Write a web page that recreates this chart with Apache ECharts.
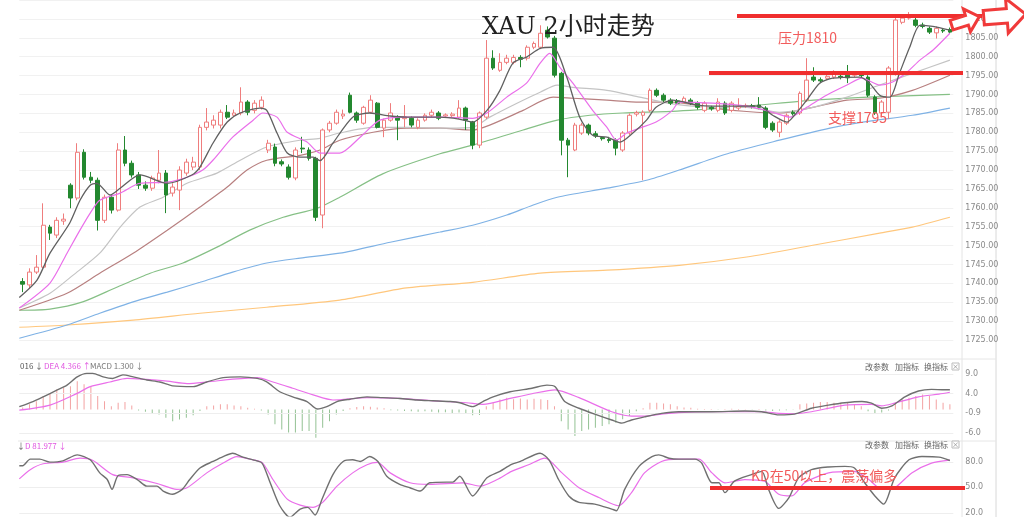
<!DOCTYPE html>
<html>
<head>
<meta charset="utf-8">
<script src="https://cdn.jsdelivr.net/npm/echarts@6/dist/echarts.min.js"></script>
<style>html,body{margin:0;padding:0;background:#fff}#c{width:1024px;height:517px}</style>
</head>
<body>
<div id="c"></div>
<script>
// ---- DATA ----
// candles: [open, close, low, high]
const candles = [
[1740.5,1739.8,1737.7,1741.4],[1739.6,1743.0,1738.5,1744.0],[1743.0,1744.3,1742.5,1747.5],[1744.3,1755.4,1744.0,1761.2],
[1754.9,1753.3,1751.5,1755.5],[1752.8,1756.7,1752.0,1757.5],[1756.5,1757.0,1755.5,1758.5],[1766.0,1762.6,1759.9,1766.5],
[1762.6,1774.7,1762.0,1777.1],[1774.7,1768.1,1767.5,1775.5],[1768.1,1767.3,1766.5,1769.5],[1767.3,1756.7,1754.0,1768.0],
[1756.7,1762.8,1756.0,1763.5],[1762.8,1759.4,1758.5,1763.5],[1759.4,1775.3,1759.0,1777.1],[1775.3,1771.8,1771.0,1779.0],
[1771.8,1768.7,1768.0,1772.5],[1768.7,1766.0,1765.0,1769.5],[1766.0,1765.2,1764.5,1767.0],[1765.2,1767.9,1764.5,1768.5],
[1767.3,1769.2,1766.5,1775.3],[1769.2,1763.4,1758.6,1770.0],[1763.9,1765.5,1763.0,1766.5],[1764.7,1770.0,1759.4,1771.0],
[1769.2,1772.1,1768.5,1773.0],[1770.8,1772.1,1770.0,1773.5],[1770.8,1781.3,1770.0,1782.0],[1781.3,1782.7,1780.5,1786.4],
[1781.9,1783.2,1781.0,1784.5],[1781.9,1785.3,1781.0,1786.0],[1785.3,1784.0,1783.5,1787.2],[1784.5,1785.1,1784.0,1786.0],
[1785.1,1788.0,1784.5,1791.9],[1788.0,1785.3,1784.5,1788.5],[1785.8,1787.7,1785.0,1788.5],[1786.6,1788.5,1786.0,1789.5],
[1775.3,1777.1,1774.5,1778.0],[1776.1,1771.8,1771.0,1777.0],[1772.2,1771.6,1771.0,1772.8],[1770.8,1768.1,1767.5,1771.5],
[1767.9,1775.3,1767.3,1776.0],[1775.8,1775.6,1774.5,1778.8],[1775.3,1773.1,1772.5,1776.0],[1773.1,1757.5,1756.5,1773.5],
[1758.1,1780.6,1754.6,1781.0],[1780.6,1782.4,1780.0,1783.0],[1782.4,1785.3,1782.0,1786.0],[1784.3,1784.8,1783.5,1786.0],
[1789.8,1785.3,1785.0,1790.5],[1785.1,1783.2,1782.5,1785.5],[1782.4,1786.6,1782.0,1787.0],[1785.3,1788.5,1785.0,1789.8],
[1787.7,1781.3,1781.0,1788.0],[1781.1,1783.2,1778.7,1783.6],[1783.2,1785.1,1782.8,1787.7],[1784.0,1783.2,1777.9,1784.5],
[1783.6,1784.1,1781.3,1787.2],[1783.7,1781.9,1781.3,1784.2],[1781.3,1783.2,1780.8,1783.7],[1783.2,1784.5,1782.8,1785.0],
[1784.5,1785.3,1784.0,1786.0],[1785.1,1783.7,1783.2,1785.6],[1784.3,1784.6,1783.8,1785.0],[1784.4,1784.8,1784.0,1785.3],
[1784.0,1786.4,1783.5,1788.5],[1786.4,1783.2,1780.6,1786.8],[1782.7,1776.6,1775.5,1783.0],[1776.6,1785.1,1775.8,1785.5],
[1784.0,1799.6,1783.5,1804.4],[1799.6,1797.0,1796.5,1801.7],[1796.4,1798.5,1796.0,1800.9],[1798.5,1799.6,1798.0,1800.5],
[1798.5,1799.8,1798.0,1800.5],[1799.8,1799.3,1797.2,1800.4],[1799.6,1802.5,1799.0,1803.0],[1802.5,1803.5,1802.0,1804.0],
[1802.5,1806.2,1802.0,1808.3],[1807.0,1805.2,1804.8,1808.0],[1804.9,1795.1,1794.5,1805.5],[1795.6,1777.9,1773.9,1796.0],
[1777.9,1776.6,1768.1,1778.5],[1775.3,1781.9,1775.0,1782.5],[1779.8,1781.9,1779.3,1782.5],[1781.9,1779.8,1779.2,1782.3],
[1779.6,1779.0,1778.5,1780.3],[1778.6,1778.3,1777.8,1779.0],[1778.1,1777.8,1777.2,1778.8],[1777.9,1775.8,1773.9,1778.4],
[1775.3,1779.8,1774.8,1780.3],[1779.8,1784.5,1779.3,1785.0],[1784.8,1785.2,1784.2,1785.7],[1784.5,1785.3,1767.3,1785.8],
[1785.8,1791.1,1785.3,1791.6],[1791.1,1789.8,1789.3,1791.6],[1789.8,1788.5,1788.0,1790.3],[1788.5,1787.7,1787.2,1789.0],
[1788.3,1787.7,1787.2,1788.8],[1788.0,1789.0,1787.5,1789.5],[1788.5,1787.7,1787.2,1789.0],[1787.7,1786.6,1786.0,1788.2],
[1785.8,1787.7,1785.3,1788.2],[1786.6,1786.2,1785.7,1787.0],[1785.8,1788.0,1785.3,1789.0],[1787.7,1785.1,1784.6,1788.2],
[1785.8,1787.7,1785.3,1788.2],[1786.4,1786.8,1785.8,1789.0],[1786.9,1787.1,1786.4,1787.6],[1787.0,1786.8,1786.3,1787.5],
[1787.2,1786.6,1786.1,1789.3],[1786.4,1781.3,1780.8,1786.9],[1782.4,1780.6,1780.1,1782.9],[1780.0,1782.7,1778.7,1783.2],
[1782.4,1784.5,1781.9,1785.0],[1785.3,1784.9,1784.4,1785.8],[1785.1,1790.3,1784.6,1790.8],[1788.5,1793.8,1788.0,1799.6],
[1794.6,1793.8,1793.3,1797.2],[1793.9,1793.6,1793.0,1794.5],[1794.3,1794.8,1793.8,1795.3],[1794.6,1795.9,1794.1,1796.4],
[1794.8,1794.5,1794.0,1795.5],[1795.1,1794.4,1793.0,1797.8],[1795.1,1795.3,1794.6,1795.8],[1795.2,1795.0,1794.5,1795.7],
[1794.6,1789.8,1789.3,1795.1],[1789.3,1785.1,1784.6,1789.8],[1785.1,1788.0,1784.0,1788.5],[1785.3,1797.0,1783.5,1797.5],
[1795.6,1809.7,1795.0,1811.0],[1809.1,1810.2,1808.6,1811.0],[1810.2,1811.0,1809.8,1811.8],[1809.7,1808.3,1807.8,1810.8],
[1808.4,1808.0,1807.5,1809.0],[1807.5,1806.5,1806.0,1808.0],[1806.3,1807.5,1804.8,1808.0],[1807.0,1806.8,1806.3,1807.5],
[1807.2,1806.5,1806.0,1807.7]
];
// moving averages: [bar index, price]
const ma5 = [[-0.5,1736.3],[2.1,1740.9],[4.0,1748.0],[6.9,1756.0],[8.4,1762.0],[9.9,1766.0],[10.9,1766.5],[12.8,1763.4],[14.3,1765.2],[17.2,1768.7],[21.2,1766.5],[24.8,1768.7],[26.0,1770.8],[27.9,1777.1],[30.0,1782.7],[31.9,1785.1],[34.8,1786.4],[35.8,1785.8],[37.3,1779.8],[38.8,1774.5],[40.7,1773.4],[42.6,1773.4],[43.6,1772.5],[45.5,1777.1],[48.4,1784.0],[50.9,1785.1],[53.9,1784.3],[56.3,1784.0],[61.2,1784.0],[64.0,1783.5],[66.0,1782.7],[68.1,1785.8],[70.0,1791.1],[71.9,1798.3],[73.9,1799.9],[75.9,1802.2],[77.8,1802.5],[79.8,1794.6],[81.7,1784.0],[83.6,1779.2],[85.7,1778.7],[87.6,1777.4],[89.5,1779.8],[91.5,1783.2],[92.9,1786.6],[95.3,1788.5],[98.9,1787.2],[101.2,1786.9],[108.0,1786.9],[110.0,1784.5],[112.1,1782.7],[113.2,1784.5],[115.0,1788.5],[116.9,1793.0],[118.8,1794.3],[122.8,1794.6],[124.2,1793.0],[125.7,1789.8],[127.2,1789.3],[128.6,1795.6],[130.1,1802.5],[131.6,1808.3],[133.5,1808.0],[136.0,1807.0]];
const ma10 = [[-0.5,1733.5],[4.0,1740.1],[6.5,1748.0],[8.4,1754.1],[9.9,1758.6],[11.3,1762.0],[14.3,1763.9],[17.2,1766.5],[21.2,1766.8],[24.1,1768.1],[26.4,1770.0],[27.9,1772.6],[30.8,1778.7],[33.8,1783.2],[35.2,1785.1],[37.3,1784.0],[38.8,1780.0],[41.7,1777.4],[43.6,1774.5],[46.5,1774.5],[49.5,1778.7],[52.4,1783.2],[56.3,1784.0],[61.2,1784.0],[66.0,1783.7],[68.1,1785.1],[71.0,1789.3],[73.9,1793.0],[75.9,1798.3],[77.3,1800.9],[78.8,1797.2],[80.7,1793.0],[83.6,1785.8],[85.7,1781.3],[87.1,1777.9],[88.6,1779.8],[90.5,1781.1],[92.9,1782.7],[95.3,1785.8],[96.3,1788.0],[101.2,1787.7],[106.2,1786.9],[110.0,1785.3],[112.5,1784.0],[115.0,1786.6],[117.9,1789.8],[120.9,1792.5],[123.1,1794.3],[125.7,1792.5],[127.6,1793.3],[129.7,1795.9],[131.6,1799.1],[133.5,1801.7],[136.0,1806.2]];
const ma20 = [[-0.5,1733.5],[4.0,1737.4],[7.4,1742.2],[11.3,1748.0],[14.3,1754.9],[17.2,1760.2],[20.6,1762.8],[24.1,1766.5],[28.5,1769.2],[31.9,1772.6],[35.8,1776.1],[40.7,1777.9],[43.6,1778.4],[46.5,1779.8],[51.4,1781.3],[56.3,1781.3],[61.2,1781.1],[66.0,1781.3],[68.5,1784.0],[72.5,1787.7],[75.9,1790.6],[78.4,1792.5],[80.7,1791.9],[85.7,1791.1],[90.5,1789.3],[95.3,1787.5],[101.2,1786.6],[106.2,1786.6],[111.0,1785.3],[115.9,1786.6],[120.9,1789.3],[125.7,1792.5],[130.5,1795.6],[136.0,1799.1]];
const ma30 = [[-0.5,1732.9],[6.5,1737.4],[11.3,1742.7],[16.2,1748.0],[21.2,1754.1],[26.0,1760.2],[30.0,1765.5],[32.9,1770.0],[35.8,1772.6],[40.7,1773.9],[43.6,1775.3],[46.5,1777.9],[51.4,1780.0],[56.3,1781.1],[61.2,1781.1],[66.0,1780.6],[68.5,1781.9],[73.4,1785.8],[77.8,1789.3],[80.7,1789.0],[85.7,1788.5],[90.5,1788.0],[95.3,1788.0],[101.2,1786.4],[106.2,1785.5],[111.0,1785.1],[115.9,1786.6],[120.9,1788.5],[125.7,1789.0],[130.5,1791.1],[136.0,1795.1]];
const ma60 = [[-0.5,1732.9],[4.0,1733.2],[8.8,1735.1],[13.8,1739.0],[18.7,1742.7],[23.5,1745.4],[28.5,1749.6],[33.3,1754.1],[38.2,1757.5],[43.2,1759.9],[46.5,1762.8],[52.8,1769.0],[61.2,1774.3],[66.0,1776.6],[73.4,1780.6],[78.4,1783.2],[83.2,1784.5],[88.0,1785.1],[96.0,1785.6],[106.0,1786.9],[116.0,1788.5],[124.0,1789.3],[136.0,1790.0]];
const ma120 = [[-0.5,1725.5],[6.5,1729.0],[11.3,1732.1],[16.2,1735.1],[21.2,1737.7],[26.0,1740.3],[30.8,1743.0],[35.8,1745.4],[40.7,1746.7],[46.5,1748.0],[53.9,1750.9],[61.2,1753.6],[66.0,1755.4],[71.0,1758.1],[74.8,1760.7],[78.4,1762.8],[85.7,1765.2],[91.5,1767.3],[96.3,1770.0],[103.7,1774.5],[111.0,1777.9],[118.4,1781.1],[123.2,1782.7],[130.5,1784.5],[136.0,1786.4]];
const ma250 = [[-0.5,1728.4],[6.5,1729.0],[16.2,1730.3],[26.0,1732.1],[35.8,1733.7],[46.5,1735.6],[56.3,1738.8],[66.0,1740.3],[75.9,1742.7],[85.7,1743.5],[96.3,1744.8],[106.2,1747.0],[115.9,1750.1],[125.7,1753.3],[130.5,1754.9],[136.0,1757.5]];
// MACD histogram per bar
const macdHist = [0.5,1.3,2.1,3.4,4.2,5.1,5.5,5.9,7.2,6.4,5.9,3.4,2.1,0.8,1.7,1.9,1.0,-0.3,-0.6,-0.9,
-1.3,-2.1,-3.0,-2.6,-2.1,-1.5,-0.4,0.8,1.0,1.3,1.3,1.0,0.8,0.4,0.2,-0.3,-1.3,-3.8,-5.1,-5.9,
-5.9,-5.5,-5.5,-7.2,-4.7,-3.0,-1.3,-0.4,0.3,0.6,0.8,0.7,0.5,0.3,-0.2,-0.3,-0.4,-0.5,-0.6,-0.5,
-0.6,-0.8,-0.7,-0.9,-0.8,-1.2,-1.5,-1.4,0.8,1.7,2.5,3.0,2.6,2.8,2.5,2.7,2.6,2.4,0.8,-3.0,
-5.1,-6.8,-5.5,-5.1,-4.7,-4.2,-3.8,-3.4,-2.5,-1.7,-0.5,0.3,1.7,1.7,1.5,1.3,0.8,0.5,0.4,0.2,
0.1,0.1,-0.1,0.1,0.2,0.1,0.05,-0.1,0.1,-0.3,-0.4,-0.3,-0.2,-0.1,1.3,1.5,1.7,1.9,1.9,1.7,
1.7,1.7,1.3,0.8,-0.5,-1.2,-0.8,-0.3,1.7,2.5,3.0,3.4,3.8,3.4,2.5,1.7,1.3];
const dif = [[-0.5,0.7],[1.5,2.0],[3.0,3.2],[5.0,4.9],[6.5,6.2],[8.0,8.3],[9.4,9.2],[10.3,9.2],[11.8,8.3],[13.2,7.9],[14.7,8.8],[16.2,8.3],[18.2,7.5],[20.1,7.0],[22.0,6.0],[25.0,5.8],[27.0,7.0],[29.4,8.1],[31.9,8.3],[34.4,7.9],[35.8,7.0],[37.7,4.5],[39.6,3.2],[41.7,2.0],[43.2,0.1],[44.6,0.7],[46.1,2.0],[48.0,2.6],[50.5,3.2],[52.8,3.0],[55.3,2.8],[57.8,2.4],[60.2,2.2],[62.7,2.0],[64.1,1.7],[66.0,0.7],[67.5,2.0],[69.0,3.2],[71.5,4.5],[74.7,5.4],[76.9,6.2],[78.1,5.8],[79.5,2.0],[81.6,0.3],[83.9,-1.2],[86.4,-2.7],[87.9,-3.5],[89.3,-2.7],[91.2,-1.9],[93.7,-1.0],[96.2,-0.6],[101.1,-0.6],[105.9,-0.4],[108.4,-0.6],[110.9,-1.4],[113.2,-1.2],[115.7,0.3],[118.2,1.1],[120.6,1.7],[123.1,2.0],[124.5,1.6],[126.0,0.3],[127.5,0.9],[129.4,3.2],[131.4,4.7],[133.3,5.1],[135.2,5.0],[136.0,5.02]];
const dea = [[-0.5,-0.2],[4.0,1.1],[8.0,4.1],[9.9,5.8],[12.8,7.0],[15.3,7.9],[17.6,7.7],[21.2,7.2],[24.1,6.6],[27.0,7.0],[30.8,7.7],[34.4,8.1],[36.7,7.0],[39.6,5.4],[42.6,3.7],[45.5,2.4],[50.5,3.0],[55.3,2.8],[60.2,2.2],[65.1,1.7],[67.5,1.3],[71.5,2.8],[74.7,4.0],[78.1,5.0],[81.6,3.0],[86.4,-0.6],[89.3,-1.7],[91.2,-1.7],[93.7,-1.2],[96.2,-0.8],[101.1,-0.6],[108.4,-0.6],[110.9,-1.0],[113.2,-1.1],[115.7,-0.6],[120.6,1.1],[124.5,1.3],[126.0,0.9],[127.9,1.6],[131.4,3.2],[134.4,3.9],[136.0,4.37]];
const kdK = [[-0.5,75.4],[0.0,75.4],[1.1,83.1],[2.5,83.1],[4.0,79.6],[5.9,81.1],[8.0,88.1],[9.9,82.3],[11.3,67.0],[12.4,59.2],[13.1,47.7],[14.0,63.9],[15.3,65.0],[16.8,59.2],[18.2,51.5],[19.7,51.5],[20.6,45.7],[22.0,42.0],[23.4,47.7],[24.5,59.2],[26.0,72.7],[27.9,80.4],[29.4,86.1],[30.8,90.0],[32.3,85.4],[33.8,82.3],[35.1,78.5],[36.3,55.4],[37.7,28.5],[39.2,15.0],[40.7,24.6],[41.8,26.6],[42.9,17.7],[43.9,36.2],[45.5,65.0],[47.0,80.4],[48.4,82.3],[49.5,80.4],[50.9,86.1],[52.1,80.4],[53.4,63.0],[55.3,53.5],[56.8,49.6],[58.3,45.7],[59.7,55.4],[62.2,56.2],[63.1,56.2],[64.1,63.0],[66.0,40.0],[68.1,61.2],[70.0,68.8],[71.7,77.0],[73.0,80.4],[75.9,90.0],[77.2,82.3],[78.6,59.2],[80.1,40.0],[81.6,32.4],[83.9,30.4],[86.4,24.6],[87.1,22.7],[88.3,47.7],[90.4,74.6],[92.3,86.1],[93.3,88.1],[94.8,84.2],[96.2,83.1],[98.6,83.1],[99.6,78.5],[101.1,55.4],[102.1,55.4],[103.0,43.9],[104.4,57.3],[106.9,65.0],[108.4,68.8],[109.4,47.7],[110.9,25.4],[112.4,38.1],[113.8,61.2],[115.7,70.8],[118.2,73.9],[120.6,74.6],[122.0,72.7],[123.5,55.4],[125.0,40.0],[126.3,30.4],[127.9,61.2],[130.0,82.3],[131.9,86.1],[134.4,85.4],[136.0,81.5]];
const kdD = [[-0.5,60.0],[1.1,70.8],[3.0,77.7],[5.9,79.6],[8.4,84.2],[10.3,81.5],[13.2,65.0],[16.2,61.2],[19.7,54.6],[22.6,47.7],[24.1,49.6],[27.0,67.0],[29.4,78.5],[31.4,86.1],[33.8,82.3],[35.2,78.5],[36.7,59.2],[38.8,36.2],[40.7,29.3],[42.6,26.6],[44.0,32.4],[46.1,51.5],[48.4,67.0],[50.5,76.5],[52.0,79.2],[53.9,67.0],[56.8,55.4],[59.7,53.5],[64.6,55.4],[67.1,51.5],[69.6,59.2],[71.7,68.8],[74.2,76.5],[76.6,84.2],[79.1,67.0],[81.6,49.6],[84.5,38.1],[87.4,28.5],[89.3,43.9],[91.2,67.0],[93.7,80.4],[96.2,83.1],[99.2,83.1],[101.1,67.0],[103.0,55.4],[105.9,59.2],[108.8,57.3],[110.9,42.0],[112.8,40.0],[114.7,55.4],[118.2,67.0],[122.0,68.8],[124.1,59.2],[126.0,47.7],[127.9,49.6],[130.4,67.0],[133.3,78.5],[136.0,81.98]];
// tick labels
const priceTicks = [1725,1730,1735,1740,1745,1750,1755,1760,1765,1770,1775,1780,1785,1790,1795,1800,1805,1810];
const macdTicks = [9.0, 4.0, -0.9, -6.0];
const kdTicks = [80.0, 50.0, 20.0];

// ---- CHART ----
const N = candles.length;
const idx = candles.map((_, i) => i);
const chart = echarts.init(document.getElementById('c'));
const GL = 19.3, GW = 934;
const ln = (name, data, color, w, xi, yi, z) => ({
  name, type: 'line', data, xAxisIndex: xi, yAxisIndex: yi, symbol: 'none', smooth: 0.25,
  lineStyle: { color, width: w }, z: z || 3, silent: true
});
const gridLines = (vals) => ({
  silent: true, symbol: ['none', 'none'], label: { show: false },
  lineStyle: { color: '#eeeeee', type: 'solid', width: 1 },
  data: vals.map(v => ({ yAxis: v }))
});
const axisLbl = { color: '#8a8a8a', fontSize: 8, margin: 12, fontFamily: 'DejaVu Sans' };
const FONT = '"Noto Sans CJK SC", sans-serif';

function arrow(x, y, s, rot) {
  const p = [[-14, -5], [2, -5], [2, -12], [15, 0], [2, 12], [2, 5], [-14, 5]].map(q => [q[0] * s, q[1] * s]);
  return { type: 'polygon', x, y, rotation: rot, shape: { points: p }, style: { fill: '#ffffff', stroke: '#f03a3a', lineWidth: 3 }, z: 50 };
}
function txt(text, x, y, color, size, align) {
  return { type: 'text', x, y, z: 40, style: { text, fill: color, fontSize: size, fontFamily: FONT, textAlign: align || 'left', textVerticalAlign: 'middle' } };
}

const option = {
  animation: false,
  backgroundColor: '#ffffff',
  title: {
    text: 'XAU 2小时走势', left: 477, top: 11,
    textStyle: { fontSize: 24, fontWeight: 'normal', color: '#222', fontFamily: '"DejaVu Serif", "Noto Sans CJK SC", serif' }
  },
  grid: [
    { left: GL, width: GW, top: 0, height: 359 },
    { left: GL, width: GW, top: 360, height: 80 },
    { left: GL, width: GW, top: 443, height: 74 }
  ],
  xAxis: [
    { type: 'category', gridIndex: 0, data: idx, boundaryGap: true, show: false },
    { type: 'value', gridIndex: 0, min: -0.5, max: N - 0.5, show: false },
    { type: 'category', gridIndex: 1, data: idx, boundaryGap: true, show: false },
    { type: 'value', gridIndex: 1, min: -0.5, max: N - 0.5, show: false },
    { type: 'value', gridIndex: 2, min: -0.5, max: N - 0.5, show: false }
  ],
  yAxis: [
    { type: 'value', gridIndex: 0, position: 'right', min: 1720, max: 1815, interval: 5,
      axisLine: { show: false }, axisTick: { show: false },
      splitLine: { show: true, lineStyle: { color: '#f1f1f1' } },
      axisLabel: Object.assign({}, axisLbl, { formatter: v => priceTicks.indexOf(v) >= 0 ? v.toFixed(2) : '' }) },
    { type: 'value', gridIndex: 1, position: 'right', min: -7.8, max: 12.6,
      axisLine: { show: false }, axisTick: { show: false }, splitLine: { show: false },
      axisLabel: Object.assign({}, axisLbl, { customValues: macdTicks, formatter: v => v.toFixed(1) }) },
    { type: 'value', gridIndex: 2, position: 'right', min: 16.6, max: 102,
      axisLine: { show: false }, axisTick: { show: false }, splitLine: { show: false },
      axisLabel: Object.assign({}, axisLbl, { customValues: kdTicks, formatter: v => v.toFixed(1) }) }
  ],
  series: [
    ln('MA250', ma250, '#ffc77d', 1.2, 1, 0),
    ln('MA120', ma120, '#7fb2e5', 1.2, 1, 0),
    ln('MA60', ma60, '#86c086', 1.2, 1, 0),
    ln('MA30', ma30, '#b88080', 1.2, 1, 0),
    ln('MA20', ma20, '#c4c4c4', 1.2, 1, 0),
    { type: 'candlestick', xAxisIndex: 0, yAxisIndex: 0, data: candles, barWidth: '62%', z: 4,
      itemStyle: { color: '#ffffff', color0: '#23882f', borderColor: '#ef7d7d', borderColor0: '#23882f', borderWidth: 1 } },
    ln('MA10', ma10, '#ea6fea', 1.2, 1, 0, 5),
    ln('MA5', ma5, '#606060', 1.3, 1, 0, 6),
    { type: 'bar', xAxisIndex: 2, yAxisIndex: 1, data: macdHist, barWidth: 1, silent: true,
      itemStyle: { color: p => p.value >= 0 ? '#f3a2a2' : '#93c293' } },
    Object.assign(ln('DEA', dea, '#ea6fea', 1.2, 3, 1, 5), { markLine: gridLines(macdTicks) }),
    ln('DIF', dif, '#707070', 1.4, 3, 1, 6),
    Object.assign(ln('D', kdD, '#ea6fea', 1.2, 4, 2, 5), { markLine: gridLines(kdTicks) }),
    ln('K', kdK, '#707070', 1.4, 4, 2, 6)
  ],
  graphic: [
    { type: 'line', shape: { x1: 962, y1: 0, x2: 962, y2: 517 }, style: { stroke: '#e4e4e4', lineWidth: 1 } },
    { type: 'line', shape: { x1: 996, y1: 0, x2: 996, y2: 517 }, style: { stroke: '#d8d8d8', lineWidth: 1 } },
    { type: 'line', shape: { x1: 18, y1: 359, x2: 996, y2: 359 }, style: { stroke: '#e6e6e6', lineWidth: 1 } },
    { type: 'line', shape: { x1: 18, y1: 441, x2: 996, y2: 441 }, style: { stroke: '#e6e6e6', lineWidth: 1 } },
    // annotations
    { type: 'line', z: 45, shape: { x1: 737, y1: 16, x2: 982, y2: 16 }, style: { stroke: '#f02e2e', lineWidth: 4 } },
    { type: 'line', z: 45, shape: { x1: 709, y1: 73, x2: 963, y2: 73 }, style: { stroke: '#f02e2e', lineWidth: 4 } },
    { type: 'line', z: 45, shape: { x1: 710, y1: 488, x2: 965, y2: 488 }, style: { stroke: '#f02e2e', lineWidth: 4 } },
    arrow(965, 21, 1.0, 0.3),
    arrow(1004, 16, 1.45, 0.08),
    txt('压力1810', 778, 38, '#f25c5c', 14),
    txt('支撑1795', 828, 118, '#f25c5c', 14),
    txt('KD在50以上，震荡偏多', 751, 476, '#f25c5c', 14),
    // panel headers
    txt('016 ↓', 20, 366, '#555555', 8),
    txt('DEA 4.366 ↑', 44, 366, '#e055e0', 8),
    txt('MACD 1.300 ↓', 90, 366, '#777777', 8),
    txt('↓', 17, 446, '#555555', 8),
    txt('D 81.977 ↓', 25, 446, '#e055e0', 8),
    txt('改参数', 865, 367, '#666666', 8),
    txt('加指标', 895, 367, '#666666', 8),
    txt('换指标', 924, 367, '#666666', 8),
    { type: 'rect', shape: { x: 952, y: 363, width: 7, height: 7 }, style: { fill: '#fff', stroke: '#bbbbbb', lineWidth: 1 } },
    txt('×', 955.5, 366.5, '#888888', 7, 'center'),
    txt('改参数', 865, 445, '#666666', 8),
    txt('加指标', 895, 445, '#666666', 8),
    txt('换指标', 924, 445, '#666666', 8),
    { type: 'rect', shape: { x: 952, y: 441, width: 7, height: 7 }, style: { fill: '#fff', stroke: '#bbbbbb', lineWidth: 1 } },
    txt('×', 955.5, 444.5, '#888888', 7, 'center')
  ]
};
chart.setOption(option);
</script>
</body>
</html>
